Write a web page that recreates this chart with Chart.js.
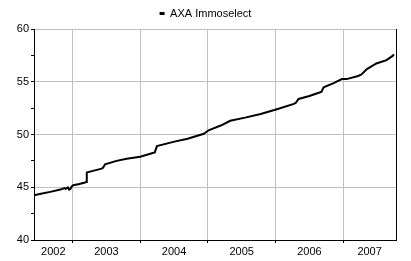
<!DOCTYPE html>
<html>
<head>
<meta charset="utf-8">
<script src="https://cdn.jsdelivr.net/npm/chart.js@4.4.1/dist/chart.umd.min.js"></script>
<style>
  html, body { margin: 0; padding: 0; background: #fff; }
  #wrap { width: 411px; height: 261px; }
</style>
</head>
<body>
<div id="wrap"><canvas id="chart"></canvas></div>
<script>
// AXA Immoselect price history (decimal years / price)
const seriesLabel = "AXA Immoselect";
const dates = [
  2002.43, 2002.55, 2002.67, 2002.82, 2002.88, 2002.90, 2002.93, 2002.95, 2002.97,
  2002.985, 2003.01, 2003.10, 2003.185, 2003.20, 2003.21, 2003.30, 2003.43, 2003.45,
  2003.48, 2003.65, 2003.80, 2004.0, 2004.197, 2004.215, 2004.247, 2004.49, 2004.70,
  2004.94, 2005.01, 2005.19, 2005.33, 2005.55, 2005.78, 2006.02, 2006.27, 2006.30,
  2006.34, 2006.50, 2006.66, 2006.68, 2006.71, 2006.85, 2006.98, 2007.05, 2007.22,
  2007.27, 2007.35, 2007.49, 2007.64, 2007.73, 2007.75
];
const prices = [
  44.25, 44.40, 44.56, 44.78, 44.92, 44.85, 44.98, 44.78, 44.85,
  45.05, 45.20, 45.30, 45.45, 45.50, 46.40, 46.55, 46.76, 46.85,
  47.17, 47.50, 47.70, 47.90, 48.27, 48.30, 48.90, 49.30, 49.60,
  50.07, 50.40, 50.85, 51.30, 51.60, 51.95, 52.40, 52.90, 53.00,
  53.37, 53.65, 54.00, 54.05, 54.47, 54.85, 55.25, 55.25, 55.55,
  55.70, 56.20, 56.73, 57.05, 57.45, 57.60
];

const xMin = 2002.43;
const xMax = 2007.78;
const yearBoundaries = [2003, 2004, 2005, 2006, 2007];
const yearLabels = ["2002", "2003", "2004", "2005", "2006", "2007"];
const yearLabelPos = [
  (xMin + 2003) / 2, 2003.5, 2004.5, 2005.5, 2006.5, (2007 + xMax) / 2
];
const yMin = 40;
const yMax = 60;
const yStep = 2.5;

const gridGrey = "#c0c0c0";
const ink = "#000000";

Chart.defaults.font.family = "'Liberation Sans', Arial, sans-serif";
Chart.defaults.font.size = 11;
Chart.defaults.color = ink;

const isBoundary = (v) => yearBoundaries.some((b) => Math.abs(b - v) < 1e-6);

new Chart(document.getElementById("chart").getContext("2d"), {
  type: "line",
  data: {
    datasets: [{
      label: seriesLabel,
      data: dates.map((d, i) => ({ x: d, y: prices[i] })),
      borderColor: ink,
      backgroundColor: ink,
      borderWidth: 2,
      pointRadius: 0,
      tension: 0,
      yAxisID: "y",
    }],
  },
  options: {
    responsive: true,
    maintainAspectRatio: false,
    animation: false,
    layout: { padding: 0 },
    plugins: {
      legend: {
        position: "top",
        labels: {
          boxWidth: 5,
          boxHeight: 3,
          padding: 8,
          color: ink,
          // plain dash marker, no stroke around it
          generateLabels: (chart) => chart.data.datasets.map((ds, i) => ({
            text: ds.label,
            fillStyle: ink,
            strokeStyle: ink,
            lineWidth: 0,
            hidden: false,
            datasetIndex: i,
          })),
        },
      },
      tooltip: { enabled: false },
    },
    scales: {
      x: {
        type: "linear",
        min: xMin,
        max: xMax,
        afterBuildTicks: (scale) => {
          scale.ticks = [...yearBoundaries, ...yearLabelPos]
            .sort((a, b) => a - b)
            .map((v) => ({ value: v }));
        },
        afterFit: (scale) => { scale.height = 21; },
        ticks: {
          autoSkip: false,
          maxRotation: 0,
          padding: 2,
          callback: (v) => {
            const i = yearLabelPos.findIndex((p) => Math.abs(p - v) < 1e-6);
            return i >= 0 ? yearLabels[i] : "";
          },
        },
        grid: {
          color: (ctx) => (ctx.tick && isBoundary(ctx.tick.value) ? gridGrey : "rgba(0,0,0,0)"),
          tickColor: (ctx) => (ctx.tick && isBoundary(ctx.tick.value) ? ink : "rgba(0,0,0,0)"),
          tickLength: 3,
        },
        border: { color: ink, width: 1 },
      },
      y: {
        type: "linear",
        position: "left",
        min: yMin,
        max: yMax,
        afterFit: (scale) => { scale.width = 34; },
        ticks: {
          stepSize: yStep,
          padding: 2,
          callback: (v) => (v % 5 === 0 ? String(v) : ""),
        },
        grid: {
          color: (ctx) => (ctx.tick && ctx.tick.value % 5 === 0 ? gridGrey : "rgba(0,0,0,0)"),
          tickColor: ink,
          tickLength: 3,
        },
        border: { color: ink, width: 1 },
      },
      yRight: {
        type: "linear",
        position: "right",
        min: yMin,
        max: yMax,
        afterFit: (scale) => { scale.width = 15; },
        ticks: { display: false },
        grid: { drawOnChartArea: false, drawTicks: false },
        border: { color: ink, width: 1 },
      },
    },
  },
});
</script>
</body>
</html>
